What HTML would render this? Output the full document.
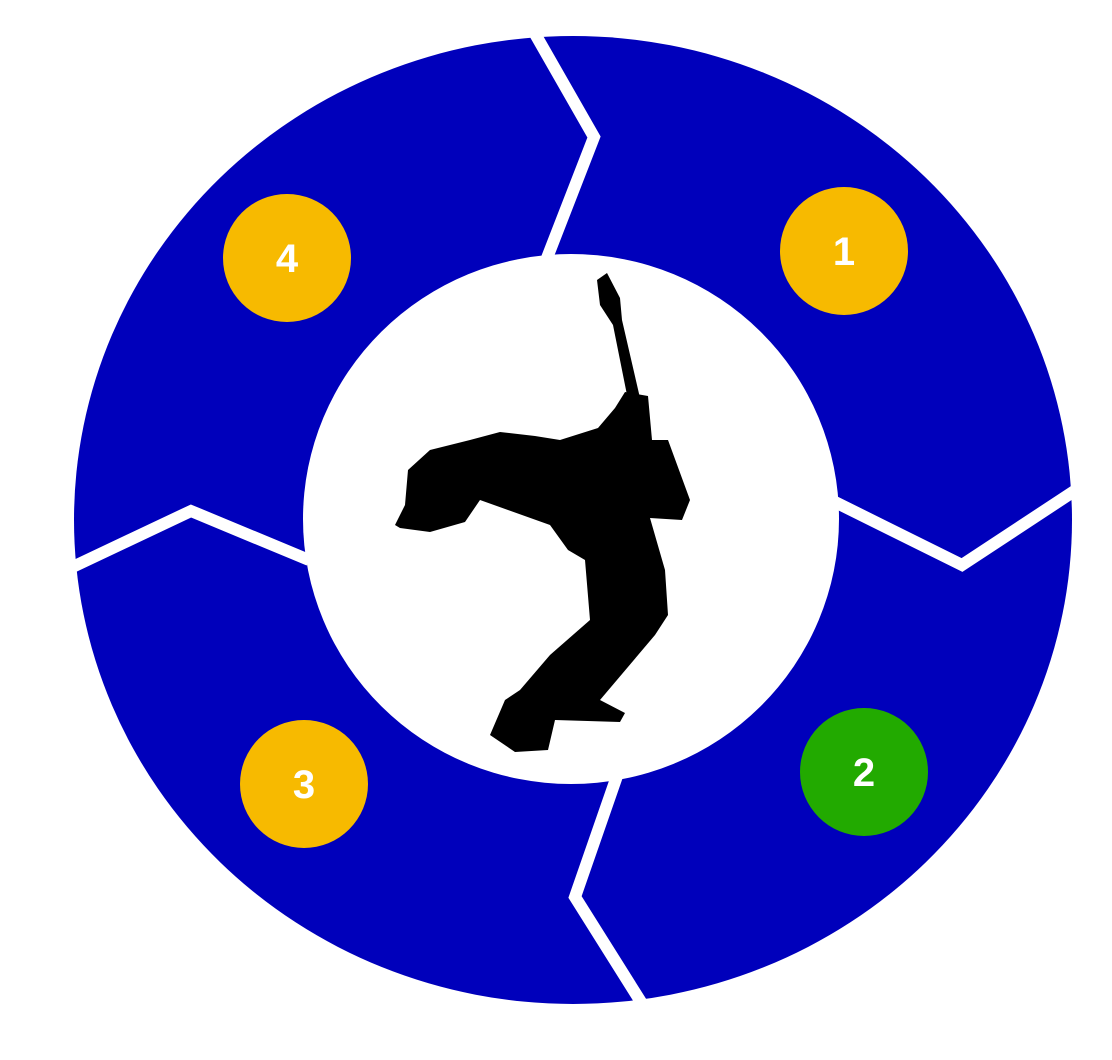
<!DOCTYPE html>
<html><head><meta charset="utf-8"><style>
html,body{margin:0;padding:0;background:#fff;width:1112px;height:1060px;overflow:hidden}
</style></head><body>
<svg width="1112" height="1060" viewBox="0 0 1112 1060" xmlns="http://www.w3.org/2000/svg">
<ellipse cx="573" cy="520" rx="499" ry="484" fill="#0000BB"/>
<ellipse cx="571" cy="519" rx="268" ry="265" fill="#fff"/>
<g fill="none" stroke="#fff" stroke-width="12" stroke-linejoin="miter">
<polyline points="530,25 594,137 547,258"/>
<polyline points="835,502 962,565 1085,484"/>
<polyline points="617,776 575,897 646,1010"/>
<polyline points="62,572 191,511 309,560"/>
</g>
<circle cx="844" cy="251" r="64" fill="#F7BA00"/>
<circle cx="864" cy="772" r="64" fill="#22AA00"/>
<circle cx="304" cy="784" r="64" fill="#F7BA00"/>
<circle cx="287" cy="258" r="64" fill="#F7BA00"/>
<g font-family="Liberation Sans, sans-serif" font-weight="bold" font-size="40" fill="#fff" text-anchor="middle">
<text x="844" y="265">1</text>
<text x="864" y="786">2</text>
<text x="304" y="798">3</text>
<text x="287" y="272">4</text>
</g>
<path fill="#000" d="M395,525 L405,505 L408,470 L430,450 L470,440 L500,432 L535,436 L560,440 L598,428 L615,408 L625,392 L648,396 L652,440 L668,440 L690,500 L682,520 L650,518 L665,570 L668,615 L655,635 L600,700 L625,713 L620,722 L555,720 L548,750 L515,752 L490,735 L505,700 L520,690 L550,655 L590,620 L585,560 L568,550 L550,525 L480,500 L465,522 L430,532 L400,528 Z"/>
<path fill="#000" d="M597,280 L607,273 L620,298 L622,320 L640,398 L628,400 L613,325 L600,305 Z"/>
</svg>
</body></html>
